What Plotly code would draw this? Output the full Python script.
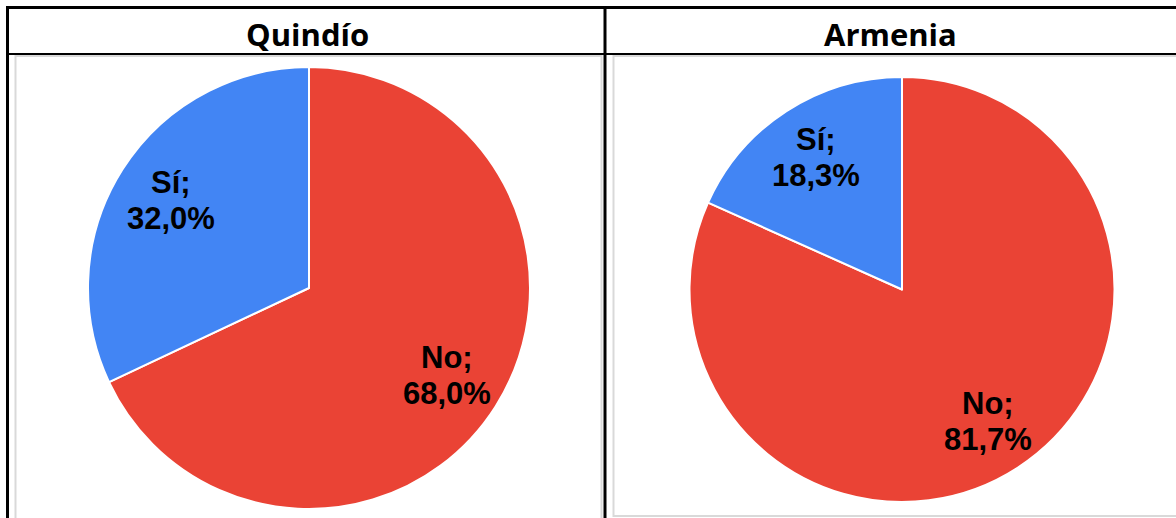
import math
import plotly.graph_objects as go

# Data
labels = ["Sí", "No"]
quindio_values = [32.0, 68.0]
armenia_values = [18.3, 81.7]
titles = ["Quindío", "Armenia"]
colors = ["#4285F4", "#EA4335"]

W, H = 1176, 518


def px(x):
    return x / W


def py(y):
    return 1 - y / H


# pie geometry in pixels: centre x, centre y, radius, title x
pies = [
    (quindio_values, titles[0], 309, 288, 221, 307),
    (armenia_values, titles[1], 902, 289.5, 212.5, 890),
]

fig = go.Figure()
annotations = []

for values, title, cx, cy, r, tx in pies:
    # No first, clockwise from 12 o'clock -> Sí ends up on the left side
    fig.add_trace(go.Pie(
        labels=labels[::-1], values=values[::-1], sort=False, direction="clockwise",
        marker=dict(colors=colors[::-1], line=dict(color="white", width=2)),
        textinfo="none",
        domain=dict(x=[px(cx - r), px(cx + r)], y=[py(cy + r), py(cy - r)]),
        showlegend=False, hoverinfo="label+percent",
    ))
    total = sum(values)
    mids = [-values[0] / total * 180.0, values[1] / total * 180.0]
    for lab, val, mid in zip(labels, values, mids):
        a = math.radians(mid)
        rr = 0.74 * r
        lx = cx + rr * math.sin(a)
        ly = cy - rr * math.cos(a)
        pct = ("%.1f" % (val / total * 100)).replace(".", ",") + "%"
        for txt, dy in ((lab + ";", -18), (pct, 18)):
            annotations.append(dict(
                text="<b>%s</b>" % txt, x=px(lx), y=py(ly + dy), xref="paper", yref="paper",
                xanchor="center", yanchor="middle", showarrow=False,
                font=dict(family="Liberation Sans", size=31, color="black"),
            ))
    annotations.append(dict(
        text="<b>%s</b>" % title, x=px(tx), y=py(34), xref="paper", yref="paper",
        xanchor="center", yanchor="middle",
        showarrow=False, font=dict(family="Open Sans", size=31, color="black"),
    ))

# table frame
shapes = [
    # light grey chart panels
    dict(type="rect", x0=px(15.5), x1=px(601.5), y0=py(530), y1=py(56), line=dict(color="#d9d9d9", width=2)),
    dict(type="rect", x0=px(613.5), x1=px(1190), y0=py(516), y1=py(56), line=dict(color="#d9d9d9", width=2)),
    # black table lines
    dict(type="line", x0=px(6), x1=px(1176), y0=py(7.5), y1=py(7.5), line=dict(color="black", width=3)),
    dict(type="line", x0=px(7.5), x1=px(7.5), y0=py(6), y1=py(518), line=dict(color="black", width=3)),
    dict(type="line", x0=px(6), x1=px(1176), y0=py(54), y1=py(54), line=dict(color="black", width=2)),
    dict(type="line", x0=px(605), x1=px(605), y0=py(6), y1=py(518), line=dict(color="black", width=3)),
]

fig.update_layout(
    width=W, height=H,
    margin=dict(l=0, r=0, t=0, b=0),
    paper_bgcolor="white", plot_bgcolor="white",
    shapes=shapes, annotations=annotations,
)

fig.write_html("out.html", config={"displayModeBar": False},
               post_script="document.body.style.margin='0';")
